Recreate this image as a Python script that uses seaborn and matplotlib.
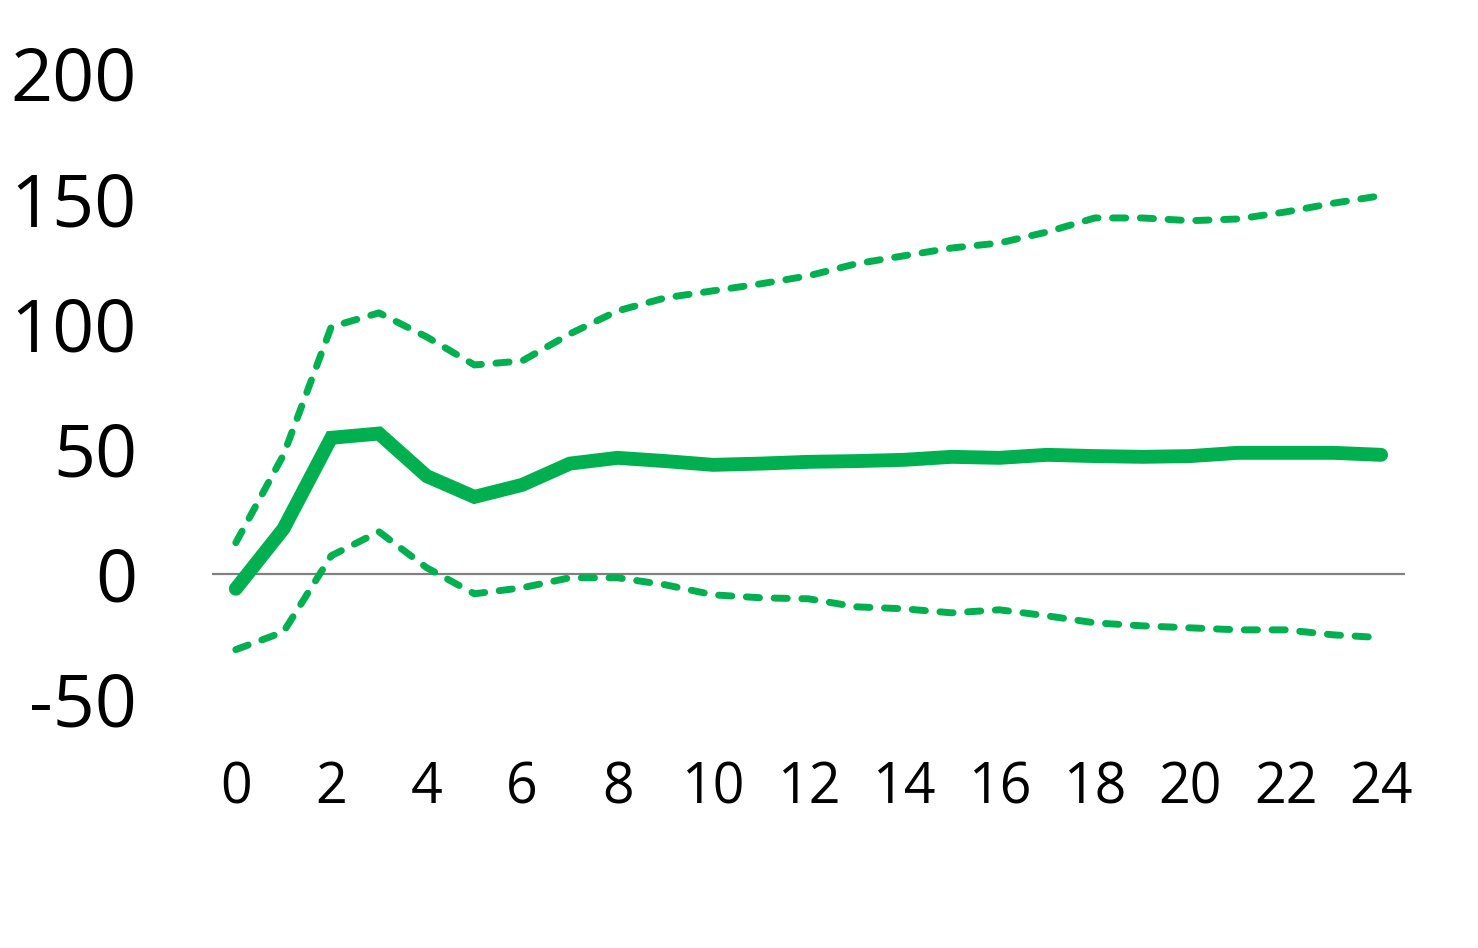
import matplotlib
matplotlib.use("Agg")
import matplotlib.pyplot as plt
import pandas as pd
import seaborn as sns

# Impulse response
horizon = list(range(25))
response = [-6, 18, 54.3, 56, 39, 30.7, 35.5, 44, 46.3, 45, 43.5, 44, 44.7,
            45, 45.5, 46.7, 46.3, 47.5, 47, 46.7, 47, 48.3, 48.3, 48.3, 47.5]
upper = [12.4, 47.5, 98.6, 104.2, 94.6, 83.4, 85, 95.8, 105, 110.2, 113, 115.8,
         119, 123.8, 127, 130.1, 132.1, 136.5, 142.1, 142.1, 141, 141.7, 144.5,
         148, 151]
lower = [-30.3, -23.2, 7.2, 16.8, 2.4, -8, -5.6, -1.6, -1.6, -4.4, -8.4, -9.6,
         -10, -13.2, -14, -15.6, -14.4, -16.8, -19.6, -20.8, -21.6, -22.4,
         -22.4, -24.4, -25.5]
y_ticks = [-50, 0, 50, 100, 150, 200]
x_ticks = list(range(0, 25, 2))

df = pd.DataFrame({"h": horizon, "irf": response, "hi": upper, "lo": lower})

sns.set_style("white")
plt.rcParams["font.family"] = ["Open Sans", "DejaVu Sans"]
plt.rcParams["axes.unicode_minus"] = False

green = "#00B050"

fig = plt.figure(figsize=(14.78, 9.48), dpi=100)
ax = fig.add_axes([0.1434, 0.2627, 0.8072, 0.6603])

ax.axhline(0, color="#808080", lw=1.6, zorder=1)

sns.lineplot(data=df, x="h", y="hi", ax=ax, color=green, lw=5, zorder=2)
sns.lineplot(data=df, x="h", y="lo", ax=ax, color=green, lw=5, zorder=2)
sns.lineplot(data=df, x="h", y="irf", ax=ax, color=green, lw=10, zorder=3)

for i, line in enumerate(ax.get_lines()[1:]):
    if i < 2:
        line.set_linestyle((0, (1.9, 2.1)))
        line.set_dash_capstyle("round")
    else:
        line.set_solid_capstyle("round")
        line.set_solid_joinstyle("miter")

ax.set_xlim(-0.5, 24.5)
ax.set_ylim(-50, 200)
ax.set_xticks(x_ticks)
ax.set_yticks(y_ticks)
ax.tick_params(axis="y", labelsize=53, pad=54, length=0, labelcolor="black")
ax.tick_params(axis="x", labelsize=40, pad=44, length=0, labelcolor="black")
ax.set_xlabel("")
ax.set_ylabel("")
sns.despine(ax=ax, left=True, bottom=True)

fig.savefig("out.png", dpi=100)
